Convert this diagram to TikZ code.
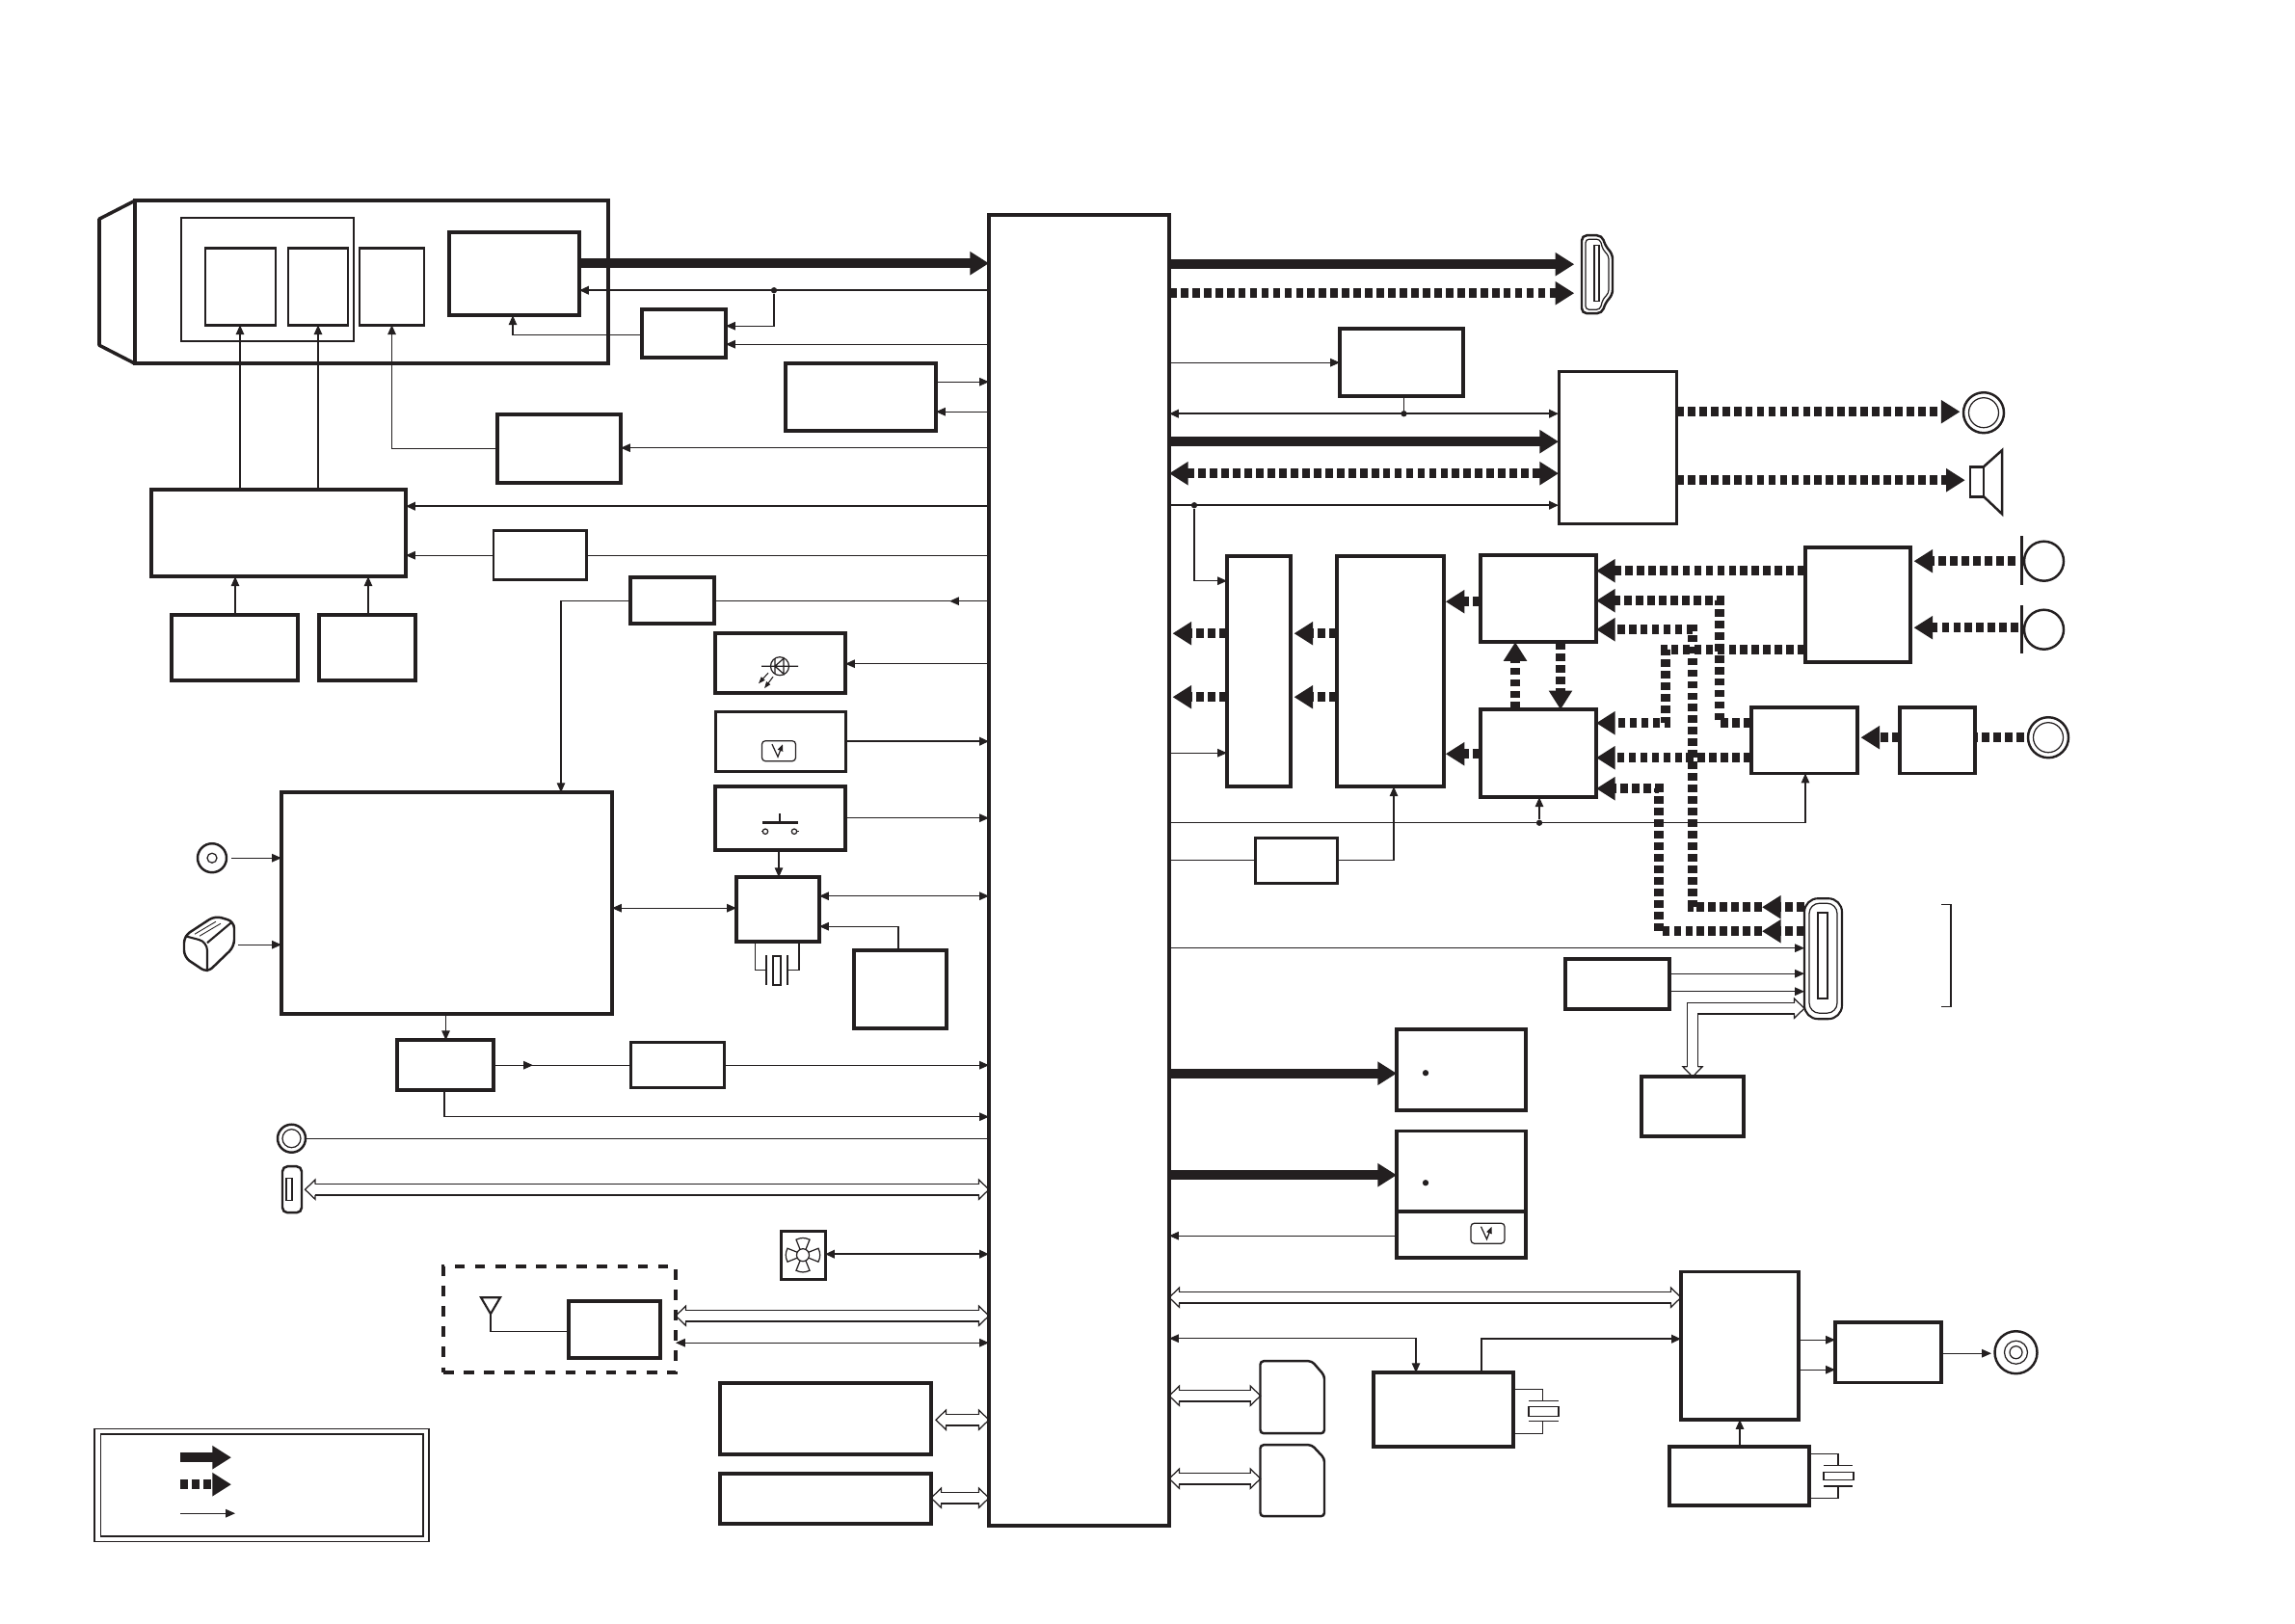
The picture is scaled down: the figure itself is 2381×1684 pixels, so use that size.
\documentclass[tikz,border=0pt]{standalone}
\usepackage{xcolor}
\usetikzlibrary{arrows.meta,shapes.geometric}
\definecolor{ink}{RGB}{35,31,32}
\pgfdeclarearrow{
  name=HollowHead,
  setup code={
    \pgfarrowssettipend{3pt}
    \pgfarrowssetlineend{0.1pt}
    \pgfarrowssetvisualbackend{0pt}
    \pgfarrowssetbackend{0pt}
    \pgfarrowshullpoint{3pt}{0pt}
    \pgfarrowsupperhullpoint{0pt}{2.9pt}
  },
  drawing code={
    \pgfsetlinewidth{.35pt}
    \pgfsetmiterjoin
    \pgfpathmoveto{\pgfqpoint{0pt}{1.625pt}}
    \pgfpathlineto{\pgfqpoint{0pt}{2.9pt}}
    \pgfpathlineto{\pgfqpoint{3pt}{0pt}}
    \pgfpathlineto{\pgfqpoint{0pt}{-2.9pt}}
    \pgfpathlineto{\pgfqpoint{0pt}{-1.625pt}}
    \pgfusepathqstroke
  }
}
\tikzset{
  bigtip/.tip={Triangle[length=5.6pt,width=6.6pt]},
  >={Triangle[length=2.8pt,width=2.4pt]},
  sz/.style 2 args={minimum width=#1*0.01cm,minimum height=#2*0.01cm},
  blk/.style={draw=ink,line width=1pt,inner sep=0pt,outer sep=0pt},
  thinblk/.style={blk,line width=.85pt},
  ring/.style={circle,draw=ink,line width=.7pt,inner sep=0pt,outer sep=0pt},
  ringin/.style={ring,line width=.35pt},
  jdot/.style={circle,fill=ink,inner sep=0pt,minimum size=1.8pt},
  wire/.style={draw=ink,line width=.35pt},
  wirem/.style={draw=ink,line width=.6pt},
  vid/.style={draw=ink,line width=2.8pt,-{bigtip}},
  aud/.style={draw=ink,line width=2.8pt,dash pattern=on 2.2pt off 1.2pt},
  bus/.style={draw=ink,line width=.35pt,double,double distance=2.9pt,{HollowHead}-{HollowHead}},
  volt/.pic={
    \draw[ink,line width=.35pt,rounded corners=1pt] (-17.5,-10.5) rectangle (17.5,10.5);
    \draw[ink,line width=.35pt,-{Triangle[length=2pt,width=1.6pt]}] (-7,-7) -- (-1,6) -- (4,-7);
  }
}
\begin{document}
\begin{tikzpicture}[x=0.01cm,y=-0.01cm,color=ink]
\useasboundingbox (0,-1.2) rectangle (2381,1682.8);
% camera head
\node[blk,sz={491}{169}] (cam) at (385.5,291.5) {};
\draw[line width=1pt,line join=round] (cam.north west) -- (103,226) -- (103,357) -- (cam.south west);
\node[thinblk,line width=.7pt,sz={179}{128}] (grp) at (277.5,289) {};
\node[thinblk,sz={73}{80}] (lensa) at (249.5,296) {};
\node[thinblk,sz={62}{80}] (lensb) at (330,296) {};
\node[thinblk,sz={67}{80}] (lensc) at (406.5,296) {};
\node[blk,sz={135}{86}] (imgsen) at (533.5,283) {};
% left column
\node[blk,sz={87}{50}] (tgen) at (709.5,345) {};
\node[blk,sz={156}{70}] (ddr) at (893,411) {};
\node[blk,sz={128}{71}] (drvb) at (580,464.5) {};
\node[blk,sz={264}{90}] (drva) at (289,552) {};
\node[thinblk,sz={96}{51}] (ampa) at (560,574.5) {};
\node[blk,sz={131}{68}] (sena) at (243.5,671) {};
\node[blk,sz={100}{68}] (senb) at (381,671) {};
\node[blk,sz={87}{48}] (regb) at (697.5,622) {};
\node[blk,sz={135}{62}] (led) at (809.5,687) {};
\node[thinblk,sz={135}{62}] (volbox) at (809.5,768) {};
\node[blk,sz={135}{66}] (swbox) at (809.5,848) {};
\node[blk,sz={86}{67}] (mcu) at (807,942.5) {};
\node[blk,sz={96}{81}] (batb) at (934,1025.5) {};
\node[blk,sz={343}{230}] (pwr) at (463.5,936) {};
\node[blk,sz={99.5}{52}] (dcdc) at (462,1104) {};
\node[thinblk,sz={97}{46.5}] (ldo) at (702.5,1104) {};
\node[thinblk,sz={46}{50}] (fan) at (833,1301) {};
\node[blk,dashed,sz={241}{110}] (wifi) at (580.5,1368) {};
\node[blk,sz={95}{59}] (wmod) at (637.5,1378.5) {};
\node[blk,sz={219}{74}] (flash) at (856.5,1471) {};
\node[blk,sz={219}{52}] (eep) at (856.5,1554) {};
% main chip
\node[blk,sz={187}{1360}] (soc) at (1119.5,902) {};
% right column
\node[blk,sz={128}{70}] (vbox) at (1454,375) {};
\node[thinblk,sz={122}{158}] (amp) at (1678,463) {};
\node[blk,sz={66}{239}] (buf) at (1306,695.5) {};
\node[blk,sz={111}{239}] (adc) at (1442.5,695.5) {};
\node[blk,sz={120}{90}] (mixa) at (1596,620) {};
\node[blk,sz={120}{91}] (mixb) at (1596,780.5) {};
\node[blk,sz={109}{119}] (micamp) at (1927.5,626.5) {};
\node[blk,sz={110}{68.5}] (linein) at (1872,767) {};
\node[blk,sz={78}{68.5}] (preamp) at (2010,767) {};
\node[thinblk,sz={85.5}{47}] (regc) at (1345,891.5) {};
\node[blk,sz={108}{52}] (usbic) at (1678,1020) {};
\node[blk,sz={106}{62}] (cradle) at (1756,1147) {};
\node[blk,sz={134}{84}] (sda) at (1516,1109) {};
\node[blk,sz={134}{83.5}] (sdb) at (1516,1214) {};
\node[blk,sz={134}{47.5}] (sdc) at (1516,1280) {};
\node[blk,sz={122}{153.5}] (txic) at (1805,1395) {};
\node[blk,sz={145}{77}] (clk) at (1497.5,1461.5) {};
\node[blk,sz={145}{61}] (clkb) at (1804.5,1530.5) {};
\node[blk,sz={110}{62.5}] (vout) at (1959,1402) {};
% icons
\node[ring,sz={30}{30}] (coin) at (220,889) {};
\node[ringin,sz={10}{10}] (coinb) at (220,889) {};
\node[ring,sz={29}{29}] (jacka) at (302.5,1180) {};
\node[ringin,sz={19}{19}] (jackb) at (302.5,1180) {};
\node[ring,sz={42}{41}] (lineout) at (2058,427) {};
\node[ringin,sz={31}{30}] (lineoutb) at (2058,427) {};
\node[ring,sz={42}{41}] (audin) at (2125,764) {};
\node[ringin,sz={31}{30}] (audinb) at (2125,764) {};
\node[ring,sz={43}{44}] (rca) at (2091.5,1402) {};
\node[ringin,sz={23}{24}] (rcab) at (2091.5,1402) {};
\node[ringin,sz={12}{13}] (rcac) at (2091.5,1402) {};
\node[ring,sz={41}{41}] (mica) at (2120.5,581) {};
\node[ring,sz={41}{41}] (micb) at (2120.5,652) {};
\draw[line width=.6pt] (2097.5,555) -- (2097.5,606);
\draw[line width=.6pt] (2097.5,627) -- (2097.5,677);
\node[thinblk,line width=.8pt,sz={14}{31}] (spk) at (2051,498.5) {};
\draw[line width=.7pt] (spk.north east) -- (2077,466) -- (2077,532) -- (spk.south east);
% hdmi socket
\node[inner sep=0pt,outer sep=0pt,sz={32}{81}] (hdmi) at (1657,283.5) {};
\draw[line width=.7pt,rounded corners=1.5pt] (1641,243) -- (1662,243) -- (1666,255) -- (1673,262) -- (1673,305) -- (1666,312) -- (1662,324) -- (1641,324) -- cycle;
\draw[line width=.35pt,rounded corners=1pt] (1645,247) -- (1660,247) -- (1663,258) -- (1669,264) -- (1669,303) -- (1663,309) -- (1660,320) -- (1645,320) -- cycle;
\draw[line width=.35pt] (1654,253) rectangle (1659,311);
% usb socket
\node[blk,line width=.6pt,rounded corners=4pt,sz={39}{125}] (usb) at (1891.5,993.5) {};
\draw[line width=.35pt,rounded corners=3pt] (1877,936) rectangle (1906,1050);
\draw[line width=.6pt] (1886,946) rectangle (1896,1035);
\draw[line width=.35pt] (2014,937.5) -- (2024,937.5) -- (2024,1043.5) -- (2014,1043.5);
% mini socket
\node[blk,line width=.7pt,rounded corners=1.5pt,sz={20}{48}] (mini) at (303,1233) {};
\draw[line width=.35pt] (297,1221) rectangle (303,1244);
% battery
\node[inner sep=0pt,outer sep=0pt,sz={52}{59}] (bat) at (217,978.5) {};
\draw[line width=.7pt,rounded corners=2pt] (215,1008) -- (191,992) -- (191,970) -- (223,949) -- (243,955) -- (243,981) -- cycle;
\draw[line width=.6pt,rounded corners=2.5pt] (192,970) -- (215,976) -- (215,1007);
\draw[line width=.6pt] (215,977) -- (240,956);
\draw[line width=.25pt] (202,968) -- (224,955) (207,970) -- (229,957);
% led symbol
\node[ringin,sz={19}{19}] (ledd) at (809,690) {};
\draw[line width=.35pt] (790,690) -- (828,690) (804,682) -- (804,698) (804,690) -- (813,682) -- (813,698) -- cycle;
\draw[line width=.3pt,-{Triangle[length=2pt,width=1.4pt]}] (797,697) -- (787,708);
\draw[line width=.3pt,-{Triangle[length=2pt,width=1.4pt]}] (802,701) -- (793,713);
% switch symbol
\draw[line width=.35pt] (809,843) -- (809,852.5) (790,861.5) -- (791.5,861.5) (826.5,861.5) -- (829,861.5);
\draw[line width=.9pt] (791,852.5) -- (828,852.5);
\draw[line width=.35pt] (794,861.5) circle (2.7) (824,861.5) circle (2.7);
% volt symbols
\pic at (808,778) {volt};
\pic at (1543.5,1278.5) {volt};
% fan
\node[ringin,sz={11}{13}] (fanc) at (833,1301) {};
\foreach \ang in {0,90,180,270}
  \draw[line width=.35pt,rotate around={\ang:(833,1301)}] (830,1295) -- (826,1285) to[bend left=25] (840,1285) -- (836,1295);
% antenna
\node[inner sep=0pt,outer sep=0pt] (ant) at (509,1362) {};
\draw[line width=.6pt] (499,1345) -- (519,1345) -- (ant.center) -- cycle;
\draw[wire] (ant.center) |- (wmod.west |- 0,1380);
% sd cards
\node[inner sep=0pt,outer sep=0pt,sz={66.5}{75}] (carda) at (1341,1448.5) {};
\draw[line width=.7pt,rounded corners=1pt] (1307.5,1411) -- (1361,1411) -- (1374,1426) -- (1374,1486) -- (1307.5,1486) -- cycle;
\node[inner sep=0pt,outer sep=0pt,sz={66.5}{74}] (cardb) at (1341,1535) {};
\draw[line width=.7pt,rounded corners=1pt] (1307.5,1498) -- (1361,1498) -- (1374,1512) -- (1374,1572) -- (1307.5,1572) -- cycle;
% video lines
\draw[vid] (imgsen.east |- 0,272) -- (soc.west |- 0,272);
\draw[vid,shorten >=2.2pt] (soc.east |- 0,273) -- (hdmi.west |- 0,273);
\draw[aud,-{bigtip},shorten >=2.2pt] (soc.east |- 0,303) -- (hdmi.west |- 0,303);
\draw[vid] (soc.east |- 0,457) -- (amp.west |- 0,457);
\draw[aud,{bigtip}-{bigtip}] (soc.east |- 0,490) -- (amp.west |- 0,490);
\draw[vid] (soc.east |- 0,1112.5) -- (sda.west |- 0,1112.5);
\draw[vid] (soc.east |- 0,1218) -- (sdb.west |- 0,1218);
\node[jdot] (sdadot) at (1479,1112) {};
\node[jdot] (sdbdot) at (1479,1226) {};
% audio lines
\draw[aud,-{bigtip},shorten >=1pt] (amp.east |- 0,426) -- (lineout.west |- 0,426);
\draw[aud,-{bigtip},shorten >=1.5pt] (amp.east |- 0,497) -- (spk.west |- 0,497);
\draw[aud,-{bigtip},shorten >=1pt,shorten <=1pt] (mica.west -| 2094,0) -- (micamp.east |- mica.west);
\draw[aud,-{bigtip},shorten >=1pt] (2094,650) -- (micamp.east |- 0,650);
\draw[aud,-{bigtip}] (micamp.west |- 0,591) -- (mixa.east |- 0,591);
\draw[aud,-{bigtip}] (linein.west |- 0,749) -| (1784,622) -- (mixa.east |- 0,622);
\draw[aud,-{bigtip}] (1828,940) -| (1756,652) -- (mixa.east |- 0,652);
\draw[aud,-{bigtip}] (usb.west |- 0,940) -- (1828,940);
\draw[aud,-{bigtip}] (micamp.west |- 0,672.5) -| (1728,749) -- (mixb.east |- 0,749);
\draw[aud,-{bigtip}] (linein.west |- 0,785) -- (mixb.east |- 0,785);
\draw[aud,-{bigtip}] (1828,965) -| (1721,817) -- (mixb.east |- 0,817);
\draw[aud,-{bigtip}] (usb.west |- 0,965) -- (1828,965);
\draw[aud,-{bigtip},shorten >=.5pt] (mixa.west |- 0,623) -- (adc.east |- 0,623);
\draw[aud,-{bigtip},shorten >=.5pt] (mixb.west |- 0,781) -- (adc.east |- 0,781);
\draw[aud,-{bigtip},shorten >=1pt] (adc.west |- 0,656) -- (buf.east |- 0,656);
\draw[aud,-{bigtip},shorten >=1pt] (adc.west |- 0,722) -- (buf.east |- 0,722);
\draw[aud,-{bigtip},shorten >=1pt] (buf.west |- 0,656) -- (soc.east |- 0,656);
\draw[aud,-{bigtip},shorten >=1pt] (buf.west |- 0,722) -- (soc.east |- 0,722);
\draw[aud,-{bigtip}] (mixb.north -| 1572,0) -- (mixa.south -| 1572,0);
\draw[aud,-{bigtip}] (mixa.south -| 1619,0) -- (mixb.north -| 1619,0);
\draw[aud,-{bigtip},shorten >=1pt] (preamp.west |- 0,764) -- (linein.east |- 0,764);
\draw[aud,shorten <=1.2pt] (audin.west) -- (preamp.east |- audin.west);
% thin lines, left
\node[jdot] (j1) at (803,300) {};
\draw[wirem,->] (soc.west |- 0,300) -- (imgsen.east |- 0,300);
\draw[wire,->] (j1) |- (tgen.east |- 0,337);
\draw[wire,->] (soc.west |- 0,356) -- (tgen.east |- 0,356);
\draw[wire,->] (tgen.west |- 0,346) -| (532,326);
\draw[wire,->] (ddr.east |- 0,395) -- (soc.west |- 0,395);
\draw[wire,->] (soc.west |- 0,426) -- (ddr.east |- 0,426);
\draw[wire,->] (soc.west |- 0,463.5) -- (drvb.east |- 0,463.5);
\draw[wire,->] (drvb.west |- 0,464) -| (lensc.south);
\draw[wire,->] (drva.north -| 249,0) -- (lensa.south -| 249,0);
\draw[wire,->] (drva.north -| 330,0) -- (lensb.south);
\draw[wirem,->] (soc.west |- 0,524) -- (drva.east |- 0,524);
\draw[wire,->] (ampa.west |- 0,575) -- (drva.east |- 0,575);
\draw[wire] (soc.west |- 0,575) -- (ampa.east |- 0,575);
\draw[wire,->] (sena.north -| 244,0) -- (drva.south -| 244,0);
\draw[wire,->] (senb.north -| 382,0) -- (drva.south -| 382,0);
\coordinate (regm) at (985,622.5);
\draw[wire] (soc.west |- regm) -- (regb.east |- regm);
\draw[wire,->] (soc.west |- regm) -- (regm);
\draw[wire,->] (regb.west |- 0,622.5) -| (pwr.north -| 582,0);
\draw[wire,->] (soc.west |- 0,687.5) -- (led.east |- 0,687.5);
\draw[wirem,->] (volbox.east |- 0,768) -- (soc.west |- 0,768);
\draw[wire,->] (swbox.east |- 0,847.5) -- (soc.west |- 0,847.5);
\draw[wire,->] (swbox.south -| 808,0) -- (mcu.north -| 808,0);
\draw[wire,<->] (mcu.east |- 0,928.5) -- (soc.west |- 0,928.5);
\draw[wire,<->] (pwr.east |- 0,941) -- (mcu.west |- 0,941);
\draw[wire,->] (batb.north -| 932,0) |- (mcu.east |- 0,960);
\draw[wire] (mcu.south -| 783.5,0) |- (795,1005) (mcu.south -| 829,0) |- (817,1005);
\draw[line width=.35pt] (795,990) -- (795,1021) (817,990) -- (817,1021);
\draw[line width=.5pt] (802,991) rectangle (810,1021);
\draw[wire,->,shorten <=1.5pt] (coin.east) -- (pwr.west |- coin.east);
\draw[wire,->,shorten <=1pt] (bat.east |- 0,979) -- (pwr.west |- 0,979);
\draw[wire,->] (pwr.south -| 462.5,0) -- (dcdc.north -| 462.5,0);
\coordinate (ldom) at (553,1104);
\draw[wire] (dcdc.east) -- (ldo.west);
\draw[wire,->] (dcdc.east) -- (ldom);
\draw[wire,->] (ldo.east) -- (soc.west |- ldo.east);
\draw[wire,->] (dcdc.south -| 461,0) |- (soc.west |- 0,1157.5);
\draw[wire] (jacka.east) -- (soc.west |- jacka.east);
\draw[bus,shorten <=1pt] (mini.east) -- (soc.west |- mini.east);
\draw[wirem,<->] (fan.east |- 0,1300) -- (soc.west |- 0,1300);
\draw[bus] (wifi.east |- 0,1364) -- (soc.west |- 0,1364);
\draw[wire,<->] (wifi.east |- 0,1392) -- (soc.west |- 0,1392);
\draw[bus,shorten <=1.4pt] (flash.east |- 0,1472) -- (soc.west |- 0,1472);
\draw[bus] (eep.east |- 0,1553) -- (soc.west |- 0,1553);
% thin lines, right
\draw[wire,->] (soc.east |- 0,375) -- (vbox.west |- 0,375);
\draw[wire] (vbox.south -| 1456.5,0) -- (1456.5,428);
\node[jdot] (j2) at (1456.5,428) {};
\draw[wirem,<->] (soc.east |- 0,428) -- (amp.west |- 0,428);
\draw[wirem,->] (soc.east |- 0,523) -- (amp.west |- 0,523);
\node[jdot] (j3) at (1239,523) {};
\draw[wire,->] (j3) |- (buf.west |- 0,601.5);
\draw[wire,->] (soc.east |- 0,780) -- (buf.west |- 0,780);
\draw[wire,->] (soc.east |- 0,852.5) -| (linein.south -| 1873,0);
\node[jdot] (j4) at (1597,852.5) {};
\draw[wire,->] (j4) -- (mixb.south -| 1597,0);
\draw[wire] (soc.east |- 0,891) -- (regc.west |- 0,891);
\draw[wire,->] (regc.east |- 0,891) -| (adc.south -| 1446,0);
\draw[wire,->] (soc.east |- 0,982.5) -- (usb.west |- 0,982.5);
\draw[wire,->] (usbic.east |- 0,1009) -- (usb.west |- 0,1009);
\draw[wire,->] (usbic.east |- 0,1027.5) -- (usb.west |- 0,1027.5);
\draw[bus] (cradle.north) |- (usb.west |- 0,1045);
\draw[wire,->] (sdc.west |- 0,1281) -- (soc.east |- 0,1281);
\draw[bus] (soc.east |- 0,1345) -- (txic.west |- 0,1345);
\draw[wire,<->] (soc.east |- 0,1387.5) -| (clk.north -| 1469,0);
\draw[wirem,->] (clk.north -| 1537,0) |- (txic.west |- 0,1388);
\draw[wire,->] (clkb.north -| 1805,0) -- (txic.south -| 1805,0);
\draw[wire,->] (txic.east |- 0,1389) -- (vout.west |- 0,1389);
\draw[wire,->] (txic.east |- 0,1420) -- (vout.west |- 0,1420);
\draw[wire,->,shorten >=1pt] (vout.east |- 0,1403) -- (rca.west |- 0,1403);
\draw[bus] (soc.east |- 0,1447) -- (carda.west |- 0,1447);
\draw[bus] (soc.east |- 0,1533) -- (cardb.west |- 0,1533);
% crystals
\draw[wire] (clk.east |- 0,1440) -| (1600.5,1452.5) (clk.east |- 0,1486) -| (1600.5,1473);
\draw[line width=.35pt] (1586,1452.5) -- (1617,1452.5) (1586,1473) -- (1617,1473);
\draw[line width=.35pt] (1586,1458.5) rectangle (1617,1468);
\draw[wire] (clkb.east |- 0,1507.5) -| (1907,1519) (clkb.east |- 0,1553) -| (1907,1541);
\draw[line width=.35pt] (1892,1519) -- (1922,1519);
\draw[line width=.7pt] (1892,1541) -- (1922,1541);
\draw[line width=.35pt] (1892,1526) rectangle (1923,1534.5);
% legend
\node[thinblk,line width=.35pt,sz={347}{117}] (lgo) at (271.5,1539.5) {};
\node[thinblk,line width=.5pt,sz={334.5}{106}] (lgi) at (271.75,1540) {};
\coordinate (lga) at (187,1511);
\coordinate (lgb) at (187,1539);
\coordinate (lgc) at (187,1569);
\draw[vid] (lga) -- ++(53,0);
\draw[aud,-{bigtip}] (lgb) -- ++(53,0);
\draw[wire,->] (lgc) -- ++(57,0);
\end{tikzpicture}
\end{document}
